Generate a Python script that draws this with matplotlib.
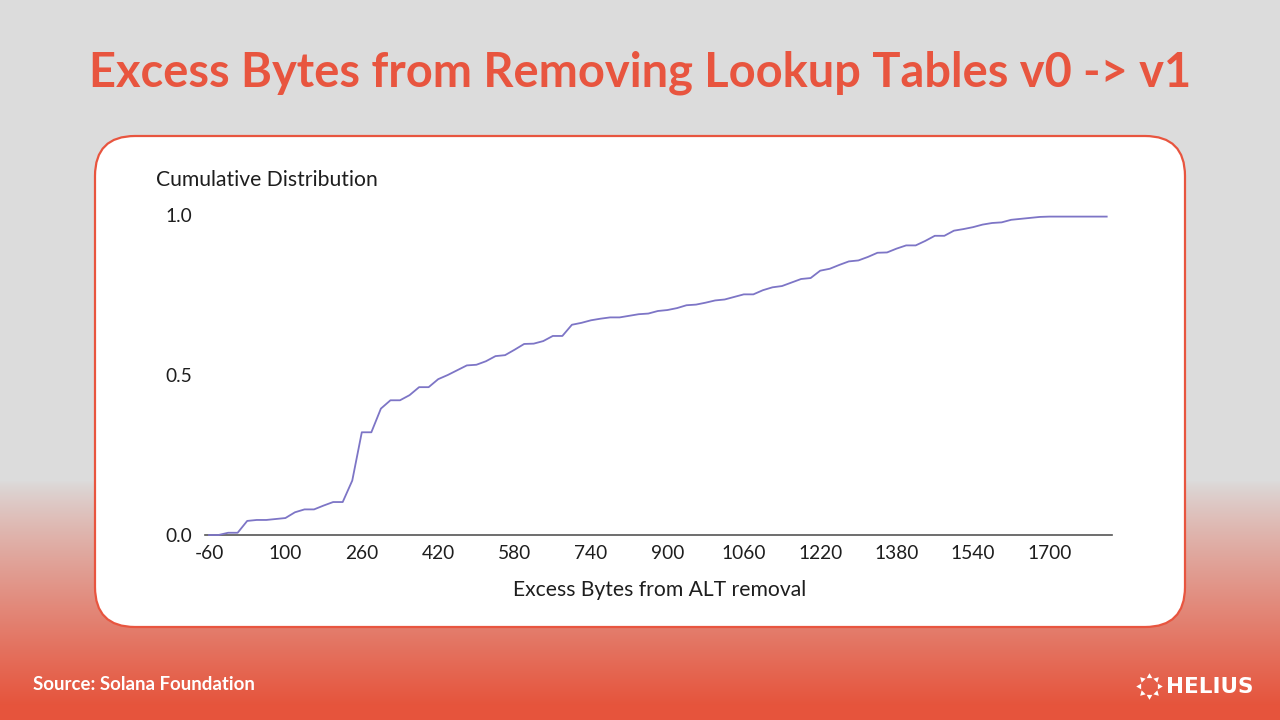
import numpy as np
import matplotlib
matplotlib.use("Agg")
import matplotlib.pyplot as plt
from matplotlib.patches import FancyBboxPatch

# ---------------- data ----------------
excess_bytes = list(range(-60, 1821, 20))  # category axis values
cdf_values = [
    0.000, 0.000, 0.007, 0.007, 0.044, 0.047, 0.047, 0.050, 0.053, 0.071,
    0.080, 0.080, 0.092, 0.103, 0.103, 0.170, 0.321, 0.321, 0.395, 0.421,
    0.421, 0.437, 0.462, 0.462, 0.487, 0.500, 0.515, 0.530, 0.532, 0.543,
    0.559, 0.562, 0.579, 0.597, 0.598, 0.606, 0.622, 0.622, 0.657, 0.663,
    0.671, 0.676, 0.680, 0.680, 0.685, 0.690, 0.692, 0.700, 0.703, 0.709,
    0.718, 0.720, 0.726, 0.733, 0.736, 0.744, 0.752, 0.752, 0.765, 0.774,
    0.778, 0.789, 0.800, 0.803, 0.826, 0.832, 0.844, 0.855, 0.858, 0.869,
    0.882, 0.883, 0.895, 0.905, 0.905, 0.919, 0.935, 0.935, 0.951, 0.956,
    0.962, 0.970, 0.975, 0.977, 0.985, 0.988, 0.991, 0.994, 0.995, 0.995,
    0.995, 0.995, 0.995, 0.995, 0.995,
]
x_tick_labels = [str(v) for v in range(-60, 1701, 160)]
y_ticks = [0.0, 0.5, 1.0]
y_tick_labels = ["0.0", "0.5", "1.0"]

title = "Excess Bytes from Removing Lookup Tables v0 -> v1"
y_title = "Cumulative Distribution"
x_title = "Excess Bytes from ALT removal"
source = "Source: Solana Foundation"

ACCENT = "#e8553f"
LINE = "#7d75c6"
TEXT = "#1e1e1e"

plt.rcParams["font.family"] = ["Lato", "DejaVu Sans"]

W, H = 1280, 720
fig = plt.figure(figsize=(W / 100, H / 100), dpi=100)

# ---------------- background (pixel coordinates) ----------------
bg = fig.add_axes([0, 0, 1, 1])
bg.set_xlim(0, W)
bg.set_ylim(H, 0)
bg.axis("off")

rows = np.arange(H)
t = np.clip((rows - 480) / 225.0, 0, 1)
t = t ** 0.85
top = np.array([0xdc, 0xdc, 0xdc]) / 255
bot = np.array([0xe6, 0x54, 0x3c]) / 255
grad = top[None, :] * (1 - t[:, None]) + bot[None, :] * t[:, None]
img = np.repeat(grad[:, None, :], 2, axis=1)
bg.imshow(img, extent=[0, W, H, 0], aspect="auto", zorder=0)

box = FancyBboxPatch((95, 136), 1090, 491,
                     boxstyle="round,pad=0,rounding_size=40",
                     facecolor="white", edgecolor=ACCENT, lw=1.6, zorder=1)
bg.add_patch(box)

bg.text(640, 73, title, ha="center", va="center", color=ACCENT,
        fontsize=33.8, fontweight="bold", zorder=2)
bg.text(33, 684, source, ha="left", va="center", color="white",
        fontsize=13.4, fontweight="bold", zorder=2)

# Helius logo (approximation)
cx, cy, r = 1149, 686, 10
angs = np.linspace(0, 2 * np.pi, 8, endpoint=False)
for a in angs:
    bg.scatter(cx + r * np.cos(a), cy + r * np.sin(a), s=22,
               marker=(3, 0, -np.degrees(a) - 90), color="white",
               linewidths=0, zorder=3)
bg.text(1166, 687, "HELIUS", ha="left", va="center", color="white",
        fontsize=15.5, fontweight="bold", family=["DejaVu Sans"], zorder=3)

bg.text(156, 180, y_title, ha="left", va="center", color=TEXT,
        fontsize=15.2, zorder=2)
bg.text(660, 590, x_title, ha="center", va="center", color=TEXT,
        fontsize=15.2, zorder=2)

# ---------------- chart axes ----------------
spacing = 9.55
left_px, right_px, x0_px = 205, 1112, 209
ax = fig.add_axes([left_px / W, (H - 535) / H, (right_px - left_px) / W, 320 / H])
ax.patch.set_alpha(0)
xs = np.arange(len(cdf_values))
ax.plot(xs, cdf_values, color=LINE, lw=1.3, clip_on=False, zorder=3)
ax.set_xlim((left_px - x0_px) / spacing, (right_px - x0_px) / spacing)
ax.set_ylim(0, 1)

for s in ["top", "right", "left"]:
    ax.spines[s].set_visible(False)
ax.spines["bottom"].set_color("#555555")
ax.spines["bottom"].set_linewidth(1.2)

ax.set_xticks(xs[::8][:len(x_tick_labels)])
ax.set_xticklabels(x_tick_labels)
ax.set_yticks(y_ticks)
ax.set_yticklabels(y_tick_labels)
ax.tick_params(axis="x", length=0, pad=7, labelsize=13.8, labelcolor=TEXT)
ax.tick_params(axis="y", length=0, pad=28.5, labelsize=13.8, labelcolor=TEXT)
for lbl in ax.get_yticklabels():
    lbl.set_horizontalalignment("left")

fig.savefig("out.png", dpi=100)
